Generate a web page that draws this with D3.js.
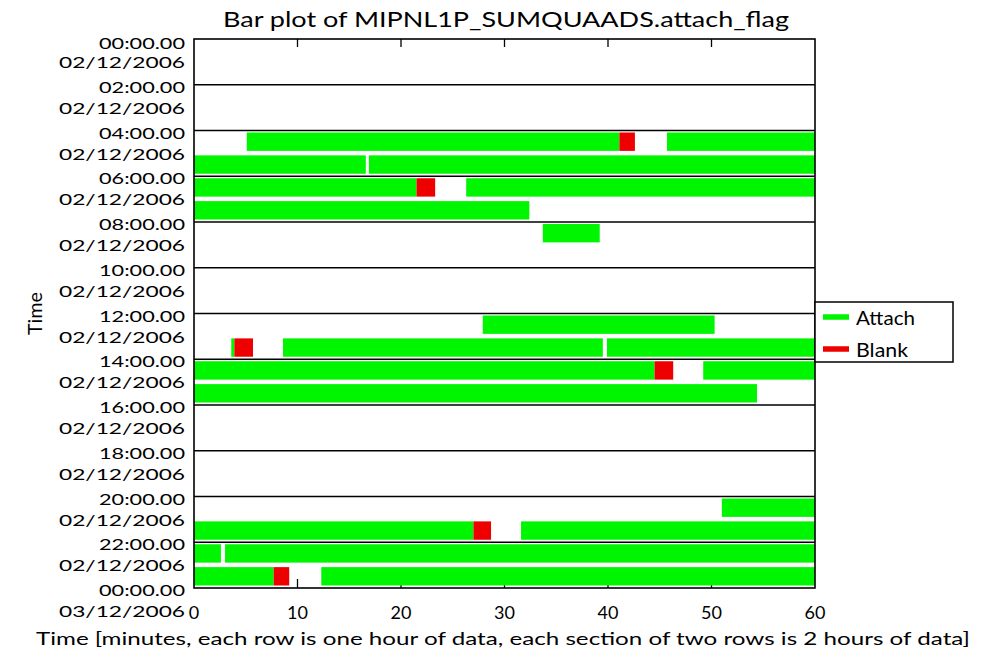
<!DOCTYPE html>
<html>
<head>
<meta charset="utf-8">
<script src="https://cdn.jsdelivr.net/npm/d3@7"></script>
<style>
  html, body { margin: 0; padding: 0; background: #ffffff; }
  svg { display: block; }
  text { font-family: Lato, "DejaVu Sans", sans-serif; font-weight: 400; fill: #000; }
</style>
</head>
<body>
<svg id="chart" width="984" height="663"></svg>
<script>
// ---------- data ----------
const titleText = "Bar plot of MIPNL1P_SUMQUAADS.attach_flag";
const xTitleText = "Time [minutes, each row is one hour of data, each section of two rows is 2 hours of data]";
const yTitleText = "Time";
const tickHours = [0, 2, 4, 6, 8, 10, 12, 14, 16, 18, 20, 22, 24];
const timeLabels = ["00:00.00", "02:00.00", "04:00.00", "06:00.00", "08:00.00", "10:00.00",
                    "12:00.00", "14:00.00", "16:00.00", "18:00.00", "20:00.00", "22:00.00", "00:00.00"];
const dateLabels = ["02/12/2006", "02/12/2006", "02/12/2006", "02/12/2006", "02/12/2006", "02/12/2006",
                    "02/12/2006", "02/12/2006", "02/12/2006", "02/12/2006", "02/12/2006", "02/12/2006", "03/12/2006"];
const xTicks = [0, 10, 20, 30, 40, 50, 60];
const legendNames = ["Attach", "Blank"];
// [row (hour of day), start minute, end minute]
const attachSegments = [
  [4, 5.1, 41.1], [4, 45.7, 60],
  [5, 0, 16.6], [5, 16.9, 60],
  [6, 0, 21.5], [6, 26.3, 60],
  [7, 0, 32.4],
  [8, 33.7, 39.2],
  [12, 27.9, 50.3],
  [13, 3.6, 3.9], [13, 8.6, 39.5], [13, 39.9, 60],
  [14, 0, 44.5], [14, 49.2, 60],
  [15, 0, 54.4],
  [20, 51.0, 60],
  [21, 0, 27.0], [21, 31.6, 60],
  [22, 0, 2.6], [22, 3.0, 60],
  [23, 0, 7.7], [23, 12.3, 60]
];
const blankSegments = [
  [4, 41.1, 42.6],
  [6, 21.5, 23.3],
  [13, 3.9, 5.7],
  [14, 44.5, 46.3],
  [21, 27.0, 28.7],
  [23, 7.7, 9.2]
];

// ---------- layout ----------
const svg = d3.select("#chart");
const pL = 194, pR = 815, pT = 39, pB = 588;
const GREEN = "#00f500", RED = "#ee0000";

const x = d3.scaleLinear().domain([0, 60]).range([pL, pR]);
const y = d3.scaleLinear().domain([0, 24]).range([pT, pB]);
const rowH = y(1) - y(0);

svg.append("rect").attr("width", 984).attr("height", 663).attr("fill", "#fff");

// tick marks (under the bars)
const tickG = svg.append("g").attr("stroke", "#000").attr("stroke-width", 1.3);
xTicks.slice(1, -1).forEach(t => {
  tickG.append("line").attr("x1", x(t)).attr("x2", x(t)).attr("y1", pT).attr("y2", pT + 8);
  tickG.append("line").attr("x1", x(t)).attr("x2", x(t)).attr("y1", pB).attr("y2", pB - 9);
});

// bars
function drawSegs(data, color) {
  svg.append("g").selectAll("rect").data(data).join("rect")
    .attr("x", d => x(d[1]))
    .attr("width", d => x(d[2]) - x(d[1]))
    .attr("y", d => y(d[0]) + 2)
    .attr("height", rowH - 4.5)
    .attr("fill", color);
}
drawSegs(attachSegments, GREEN);
drawSegs(blankSegments, RED);

// section lines
svg.append("g").selectAll("line").data(tickHours.slice(1, -1)).join("line")
  .attr("x1", pL).attr("x2", pR)
  .attr("y1", d => y(d)).attr("y2", d => y(d))
  .attr("stroke", "#000").attr("stroke-width", 1.5);

// frame
svg.append("rect").attr("x", pL).attr("y", pT).attr("width", pR - pL).attr("height", pB - pT)
  .attr("fill", "none").attr("stroke", "#000").attr("stroke-width", 1.6);

// y labels
const yl = svg.append("g");
tickHours.forEach((h, i) => {
  const yy = y(h);
  const tb = i === 0 ? yy + 10 : yy + 8;
  yl.append("text").attr("x", 185).attr("y", tb).attr("text-anchor", "end")
    .attr("font-size", 16).attr("textLength", 86).attr("lengthAdjust", "spacingAndGlyphs")
    .text(timeLabels[i]);
  yl.append("text").attr("x", 185).attr("y", yy + 29).attr("text-anchor", "end")
    .attr("font-size", 16).attr("textLength", 126).attr("lengthAdjust", "spacingAndGlyphs")
    .text(dateLabels[i]);
});

// x labels
svg.append("g").selectAll("text").data(xTicks).join("text")
  .attr("x", d => x(d)).attr("y", 619).attr("text-anchor", "middle")
  .attr("font-size", 18)
  .text(d => d);

// titles
svg.append("text").attr("x", 223).attr("y", 27)
  .attr("font-size", 22).attr("textLength", 566).attr("lengthAdjust", "spacingAndGlyphs")
  .text(titleText);
svg.append("text").attr("x", 36).attr("y", 645)
  .attr("font-size", 18).attr("textLength", 934).attr("lengthAdjust", "spacingAndGlyphs")
  .text(xTitleText);
svg.append("text").attr("transform", "translate(42,335) rotate(-90)")
  .attr("font-size", 19).attr("textLength", 43).attr("lengthAdjust", "spacingAndGlyphs")
  .text(yTitleText);

// legend
const lg = svg.append("g");
lg.append("rect").attr("x", 815).attr("y", 302).attr("width", 138).attr("height", 60)
  .attr("fill", "#fff").attr("stroke", "#000").attr("stroke-width", 1.5);
[GREEN, RED].forEach((c, i) => {
  const cy = 317 + i * 32;
  lg.append("line").attr("x1", 823).attr("x2", 849).attr("y1", cy).attr("y2", cy)
    .attr("stroke", c).attr("stroke-width", 5.5);
  lg.append("text").attr("x", 856).attr("y", cy + 8).attr("font-size", 20)
    .attr("textLength", i === 0 ? 59 : 52).attr("lengthAdjust", "spacingAndGlyphs")
    .text(legendNames[i]);
});
</script>
</body>
</html>
